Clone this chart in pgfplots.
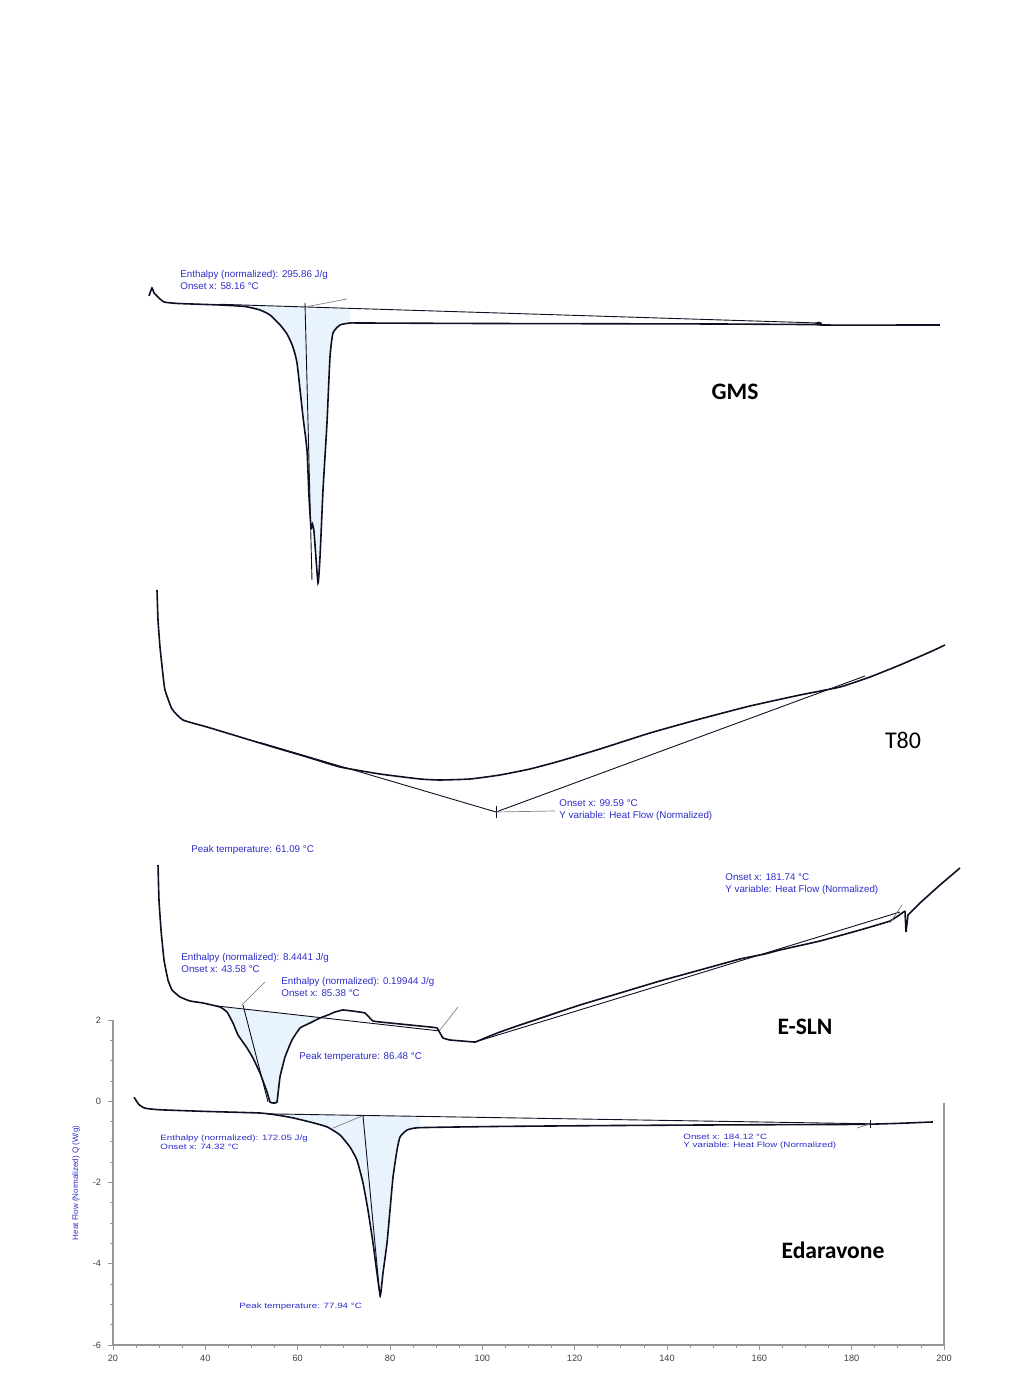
\documentclass[border=0pt]{standalone}
\usepackage{pgfplots}
\pgfplotsset{compat=1.18}
\usepackage{fontspec}
\setmainfont{Liberation Sans}
\newfontfamily\calib{Carlito}
\definecolor{lblue}{RGB}{45,45,200}
\definecolor{fillb}{RGB}{233,243,252}
\definecolor{crv}{RGB}{15,15,35}
\definecolor{axgrey}{RGB}{150,150,150}
\newcommand{\lf}{\fontsize{4.9}{5.5}\selectfont}
\newcommand{\blab}{\calib\bfseries\fontsize{11.8}{13}\selectfont}
\tikzset{lab/.style={lblue, font=\lf, anchor=base west, inner sep=0pt},
  slab/.style={lab, yscale=0.78, transform shape}}
\begin{document}
\begin{tikzpicture}
% ---------- Edaravone (real axis) ----------
\begin{axis}[scale only axis, width=415.5pt, height=162.5pt,
  xmin=20, xmax=200, ymin=-6, ymax=2,
  axis x line=bottom, axis y line=left,
  axis line style={-, draw=axgrey, line width=0.6pt},
  xtick={20,40,...,200}, ytick={-6,-4,...,2},
  minor x tick num=3, minor y tick num=3,
  tick align=outside,
  tick style={axgrey, line width=0.4pt},
  major tick length=2.5pt, minor tick length=1.5pt,
  tick label style={font=\fontsize{4.6}{5}\selectfont, text=black!75},
  xticklabel style={yshift=1pt},
  /pgf/number format/assume math mode=true,
  clip=false]
\draw[axgrey, line width=0.6pt] (axis cs:200,-0.04) -- (axis cs:200,-6);
\addplot[fill=fillb, draw=none] coordinates {
(55.52,-0.34) (58.99,-0.41) (63,-0.52) (66.35,-0.63) (69.17,-0.83) (71.34,-1.13) (72.85,-1.45) (74.15,-2.01) (75.23,-2.68) (76.32,-3.49) (77.18,-4.23) (77.9,-4.78) (78.48,-4.23) (79.35,-3.49) (80.0,-2.68) (80.65,-1.87) (81.52,-1.20) (82.17,-0.88) (83.68,-0.71) (86.5,-0.66) (86.5,-0.368) (55.52,-0.314)} -- cycle;
\addplot[crv, line width=0.8pt, smooth, tension=0.3] coordinates {
(24.55,0.10) (25.0,0.02) (25.6,-0.08) (26.5,-0.15) (27.36,-0.18) (30.18,-0.21) (40,-0.25) (51.84,-0.29) (55.52,-0.34) (58.99,-0.41) (63,-0.52) (66.35,-0.63) (69.17,-0.83) (71.34,-1.13) (72.85,-1.45) (74.15,-2.01) (75.23,-2.68) (76.32,-3.49) (77.18,-4.23) (77.9,-4.78) (78.48,-4.23) (79.35,-3.49) (80.0,-2.68) (80.65,-1.87) (81.52,-1.20) (82.17,-0.88) (83.68,-0.71) (86.5,-0.65) (103.8,-0.62) (125.5,-0.60) (147.2,-0.585) (168.8,-0.575) (181.8,-0.57) (184,-0.565) (190,-0.545) (197.6,-0.51)};
\addplot[crv, line width=0.45pt] coordinates {(53.36,-0.31) (184,-0.555)};
\addplot[crv, line width=0.45pt] coordinates {(74.15,-0.355) (77.83,-4.82)};
\addplot[gray, line width=0.35pt] coordinates {(67.65,-0.66) (74.15,-0.355)};
\addplot[gray, line width=0.35pt] coordinates {(181.15,-0.66) (184,-0.555)};
\addplot[crv, line width=0.4pt] coordinates {(184,-0.46) (184,-0.65)};
\node[slab] at (axis cs:30.18,-0.978) {Enthalpy (normalized): 172.05 J/g};
\node[slab] at (axis cs:30.18,-1.20) {Onset x: 74.32 °C};
\node[slab] at (axis cs:47.29,-5.09) {Peak temperature: 77.94 °C};
\node[slab] at (axis cs:143.47,-0.93) {Onset x: 184.12 °C};
\node[slab] at (axis cs:143.47,-1.15) {Y variable: Heat Flow (Normalized)};
\node[font=\blab, anchor=center] at (axis cs:175.96,-3.68) {Edaravone};
\node[lblue, font=\fontsize{4}{5}\selectfont, rotate=90, anchor=center] at (axis cs:11.99,-2.01) {Heat Flow (Normalized) Q (W/g)};
\end{axis}
% ---------- stacked curves (pixel-like y units) ----------
\begin{axis}[scale only axis, width=415.5pt, height=162.5pt,
  xmin=20, xmax=200, ymin=-1345, ymax=-1020, hide axis, clip=false]
\path (axis cs:-4.477,0) rectangle (axis cs:214.51,-1380);
% GMS
\addplot[fill=fillb, draw=none] coordinates {
(48.59,-306.5) (51.84,-310) (54.01,-314) (56.2,-328) (57.69,-334) (59.86,-363) (61.16,-417) (62.02,-450) (62.46,-497) (62.89,-528) (63.2,-524) (63.5,-530) (63.76,-545) (64.41,-583) (64.84,-557) (65.49,-490) (66.35,-423) (67.0,-357) (67.65,-333) (69.17,-325) (71.34,-323) (71.34,-308.4) (48.59,-305.1)} -- cycle;
\addplot[crv, line width=0.8pt, smooth, tension=0.3] coordinates {
(27.8,-296) (28.44,-288) (28.9,-293) (29.75,-297) (31.05,-302) (34.1,-303.5) (43.18,-305) (48.59,-306.5) (51.84,-310) (54.01,-315) (56.2,-325) (57.69,-334) (58.9,-346) (59.86,-363) (61.16,-417) (62.02,-450) (62.46,-497) (62.89,-528) (63.2,-524) (63.5,-530) (63.76,-545) (64.41,-583) (64.84,-557) (65.49,-490) (66.35,-423) (67.0,-357) (67.65,-333) (69.17,-325) (71.34,-323) (73.5,-323) (100,-323.5) (150,-324) (172.5,-324.5) (172.9,-322.5) (173.3,-325) (199.1,-325)};
\addplot[crv, line width=0.45pt] coordinates {(43.18,-304.3) (172.71,-323)};
\addplot[crv, line width=0.45pt] coordinates {(61.59,-303) (63.1,-580)};
\addplot[gray, line width=0.35pt] coordinates {(61.6,-307) (70.69,-299)};
\node[lab] at (axis cs:34.51,-278) {Enthalpy (normalized): 295.86 J/g};
\node[lab] at (axis cs:34.51,-290) {Onset x: 58.16 °C};
\node[font=\blab, anchor=center] at (axis cs:154.73,-392) {GMS};
% T80
\addplot[crv, line width=0.8pt, smooth, tension=0.3] coordinates {
(29.53,-590) (29.75,-620) (30.18,-647) (30.83,-675) (31.26,-690) (32.78,-709) (35.16,-720) (40.36,-727) (47.51,-737) (54.66,-747) (62.02,-757) (69.17,-767) (77.83,-774) (86.5,-779) (90.83,-780) (97.33,-779) (103.83,-775) (110.32,-769) (116.82,-761) (125.49,-749) (136.32,-733) (147.15,-719) (157.98,-706) (168.81,-695) (177.48,-687) (183.97,-677) (190.47,-665) (196.97,-652) (200.22,-645)};
\addplot[crv, line width=0.45pt] coordinates {(51.84,-742.5) (102.96,-812) (182.89,-676)};
\addplot[crv, line width=0.4pt] coordinates {(102.96,-806) (102.96,-818)};
\addplot[gray, line width=0.35pt] coordinates {(102.96,-812) (115.74,-811)};
\node[lab] at (axis cs:116.61,-807) {Onset x: 99.59 °C};
\node[lab] at (axis cs:116.61,-819) {Y variable: Heat Flow (Normalized)};
\node[font=\calib\fontsize{12}{13}\selectfont, anchor=center] at (axis cs:191.12,-740) {T80};
% E-SLN
\addplot[fill=fillb, draw=none] coordinates {
(42.53,-1006) (43.18,-1007) (44.69,-1012) (45.99,-1023) (47.08,-1035) (49.03,-1048) (50.32,-1058) (51.84,-1073) (53.36,-1092) (54.01,-1102) (54.66,-1103) (55.52,-1102) (56.17,-1077) (57.26,-1057) (58.77,-1040) (60.51,-1028) (62.67,-1023) (64.84,-1018) (66.35,-1017) (66.35,-1018) (42.53,-1006)} -- cycle;
\addplot[crv, line width=0.8pt, smooth, tension=0.2] coordinates {
(29.75,-865) (29.96,-900) (30.40,-930) (31.05,-960) (31.91,-980) (32.78,-990) (34.51,-997) (36.68,-1001) (39.49,-1003) (43.18,-1007) (44.69,-1012) (45.99,-1023) (47.08,-1035) (49.03,-1048) (50.32,-1058) (51.84,-1073) (53.36,-1092) (54.01,-1102) (54.66,-1103) (55.52,-1102) (56.17,-1077) (57.26,-1057) (58.77,-1040) (60.51,-1028) (62.67,-1023) (64.84,-1018) (66.57,-1015) (68.09,-1012) (69.82,-1010) (71.77,-1011) (74.58,-1013) (76.32,-1021) (80.0,-1023) (84.33,-1025) (88.66,-1027) (90.18,-1028) (90.83,-1033) (91.48,-1038) (93.0,-1040) (95.6,-1041) (98.41,-1042) (100.58,-1038) (103.83,-1032) (108.16,-1025) (114.66,-1015) (121.16,-1005) (129.82,-993) (138.48,-981) (147.15,-970) (155.81,-959) (161.2,-954) (164.48,-950) (173.14,-941) (181.8,-930) (188.3,-921) (191.55,-911)};
\addplot[crv, line width=0.8pt] coordinates {(191.55,-911) (191.77,-932) (192.2,-915) (194.8,-903) (199.13,-885) (203.46,-868)};
\addplot[crv, line width=0.45pt] coordinates {(42.53,-1006) (90.83,-1031)};
\addplot[crv, line width=0.45pt] coordinates {(98.41,-1042) (190.47,-912)};
\addplot[crv, line width=0.45pt] coordinates {(48.16,-1005) (53.58,-1102)};
\addplot[gray, line width=0.35pt] coordinates {(47.94,-1005) (52.92,-982)};
\addplot[gray, line width=0.35pt] coordinates {(90.83,-1030) (94.73,-1007)};
\addplot[gray, line width=0.35pt] coordinates {(188.3,-923) (190.9,-905)};
\node[lab] at (axis cs:36.90,-853) {Peak temperature: 61.09 °C};
\node[lab] at (axis cs:152.56,-881) {Onset x: 181.74 °C};
\node[lab] at (axis cs:152.56,-893) {Y variable: Heat Flow (Normalized)};
\node[lab] at (axis cs:34.73,-961) {Enthalpy (normalized): 8.4441 J/g};
\node[lab] at (axis cs:34.73,-973) {Onset x: 43.58 °C};
\node[lab] at (axis cs:56.39,-985) {Enthalpy (normalized): 0.19944 J/g};
\node[lab] at (axis cs:56.39,-997) {Onset x: 85.38 °C};
\node[lab] at (axis cs:60.29,-1060) {Peak temperature: 86.48 °C};
\node[font=\blab, anchor=center] at (axis cs:169.89,-1027) {E-SLN};
\end{axis}
\end{tikzpicture}
\end{document}
